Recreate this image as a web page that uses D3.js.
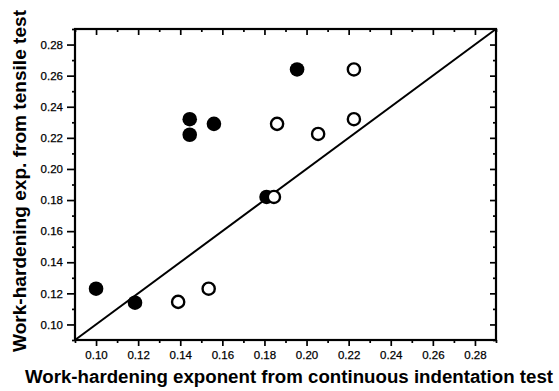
<!DOCTYPE html>
<html>
<head>
<meta charset="utf-8">
<script src="https://cdn.jsdelivr.net/npm/d3@7"></script>
<style>
  html, body { margin: 0; padding: 0; background: #fff; }
  svg { display: block; }
  text { font-family: "Liberation Sans", Arial, Helvetica, sans-serif; fill: #000; }
</style>
</head>
<body>
<svg id="chart" width="559" height="391"></svg>
<script>
// Work-hardening exponents: indentation (x) vs tensile (y)
const filledX = [0.100, 0.1185, 0.1445, 0.1445, 0.156, 0.1955, 0.181];
const filledY = [0.123, 0.114, 0.232, 0.222, 0.229, 0.264, 0.182];
const openX = [0.139, 0.1535, 0.1845, 0.186, 0.2055, 0.2225, 0.2225];
const openY = [0.1145, 0.123, 0.182, 0.229, 0.2225, 0.232, 0.264];

const axisDomain = [0.09, 0.29];
const majorTicks = [0.10, 0.12, 0.14, 0.16, 0.18, 0.20, 0.22, 0.24, 0.26, 0.28];
const tickLabels = ["0.10", "0.12", "0.14", "0.16", "0.18", "0.20", "0.22", "0.24", "0.26", "0.28"];
const minorTicks = [0.09, 0.11, 0.13, 0.15, 0.17, 0.19, 0.21, 0.23, 0.25, 0.27, 0.29];

const xTitle = "Work-hardening exponent from continuous indentation test";
const yTitle = "Work-hardening exp. from tensile test";

const svg = d3.select("#chart");
const plotLeft = 75, plotRight = 496, plotTop = 29, plotBottom = 340;

const x = d3.scaleLinear().domain(axisDomain).range([plotLeft, plotRight]);
const y = d3.scaleLinear().domain(axisDomain).range([plotBottom, plotTop]);

const fmt = d => tickLabels[majorTicks.findIndex(t => Math.abs(t - d) < 1e-9)] || "";

function styleAxis(g) {
  g.select(".domain").remove();
  g.selectAll(".tick line").attr("stroke", "#000").attr("stroke-width", 1.7);
  g.selectAll(".tick text")
    .attr("font-size", 11.5)
    .attr("font-family", "Liberation Sans, Arial, sans-serif")
    .attr("stroke", "#000").attr("stroke-width", 0.25);
}

// bottom axis: labelled major ticks and minor ticks, pointing outward
svg.append("g").attr("transform", `translate(0,${plotBottom})`)
  .call(d3.axisBottom(x).tickValues(majorTicks).tickSize(6).tickPadding(5).tickFormat(fmt))
  .call(styleAxis);
svg.append("g").attr("transform", `translate(0,${plotBottom})`)
  .call(d3.axisBottom(x).tickValues(minorTicks).tickSize(3).tickFormat(""))
  .call(styleAxis);

// left axis
svg.append("g").attr("transform", `translate(${plotLeft},0)`)
  .call(d3.axisLeft(y).tickValues(majorTicks).tickSize(8).tickPadding(4).tickFormat(fmt))
  .call(styleAxis);
svg.append("g").attr("transform", `translate(${plotLeft},0)`)
  .call(d3.axisLeft(y).tickValues(minorTicks).tickSize(3).tickFormat(""))
  .call(styleAxis);

// top and right: ticks pointing into the plot, no labels
svg.append("g").attr("transform", `translate(0,${plotTop})`)
  .call(d3.axisBottom(x).tickValues(majorTicks).tickSize(6).tickFormat(""))
  .call(styleAxis);
svg.append("g").attr("transform", `translate(0,${plotTop})`)
  .call(d3.axisBottom(x).tickValues(minorTicks).tickSize(3).tickFormat(""))
  .call(styleAxis);
svg.append("g").attr("transform", `translate(${plotRight},0)`)
  .call(d3.axisLeft(y).tickValues(majorTicks).tickSize(6).tickFormat(""))
  .call(styleAxis);
svg.append("g").attr("transform", `translate(${plotRight},0)`)
  .call(d3.axisLeft(y).tickValues(minorTicks).tickSize(3).tickFormat(""))
  .call(styleAxis);

// plot frame
svg.append("rect")
  .attr("x", plotLeft).attr("y", plotTop)
  .attr("width", plotRight - plotLeft).attr("height", plotBottom - plotTop)
  .attr("fill", "none").attr("stroke", "#000").attr("stroke-width", 2.2);

// 1:1 reference line
svg.append("line")
  .attr("x1", x(axisDomain[0])).attr("y1", y(axisDomain[0]))
  .attr("x2", x(axisDomain[1])).attr("y2", y(axisDomain[1]))
  .attr("stroke", "#000").attr("stroke-width", 2);

// filled markers
svg.append("g").selectAll("circle")
  .data(filledX.map((v, i) => [v, filledY[i]]))
  .join("circle")
  .attr("cx", d => x(d[0])).attr("cy", d => y(d[1]))
  .attr("r", 7.3).attr("fill", "#000");

// open markers
svg.append("g").selectAll("circle")
  .data(openX.map((v, i) => [v, openY[i]]))
  .join("circle")
  .attr("cx", d => x(d[0])).attr("cy", d => y(d[1]))
  .attr("r", 6.1).attr("fill", "#fff").attr("stroke", "#000").attr("stroke-width", 2.4);

// axis titles
svg.append("text")
  .attr("x", 289).attr("y", 383)
  .attr("text-anchor", "middle")
  .attr("font-size", 17.5).attr("font-weight", "bold")
  .attr("textLength", 528).attr("lengthAdjust", "spacingAndGlyphs")
  .text(xTitle);

svg.append("text")
  .attr("transform", "translate(26,181) rotate(-90)")
  .attr("text-anchor", "middle")
  .attr("font-size", 17.5).attr("font-weight", "bold")
  .attr("textLength", 342).attr("lengthAdjust", "spacingAndGlyphs")
  .text(yTitle);
</script>
</body>
</html>
